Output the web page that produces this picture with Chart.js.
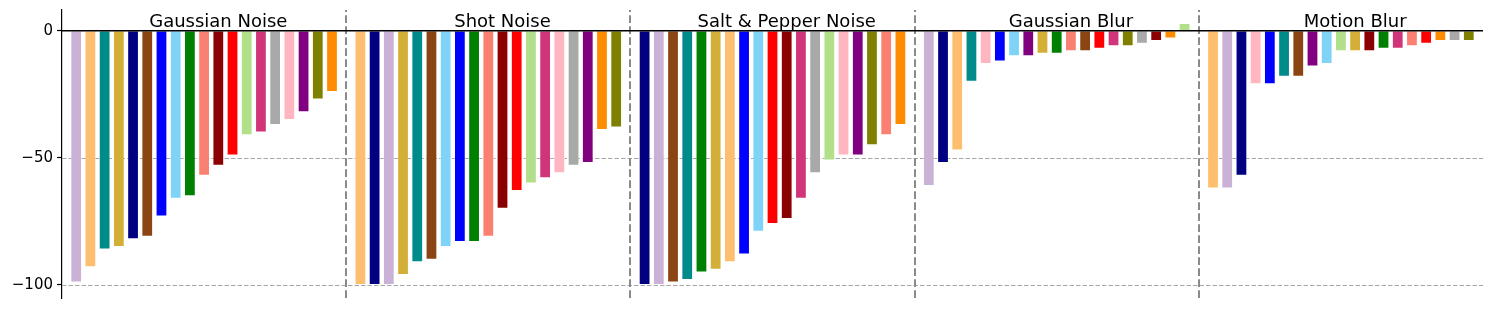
<!DOCTYPE html>
<html>
<head>
<meta charset="utf-8">
<title>Corruption drop per method</title>
<script src="https://cdn.jsdelivr.net/npm/chart.js@4.4.1/dist/chart.umd.min.js"></script>
<style>
  html, body { margin: 0; padding: 0; background: #fff; }
  #chart { display: block; }
</style>
</head>
<body>
<canvas id="chart" width="1494" height="310"></canvas>
<script>
// ─── Data ───────────────────────────────────────────────
var groups = ['Gaussian Noise', 'Shot Noise', 'Salt & Pepper Noise', 'Gaussian Blur', 'Motion Blur'];
var yTicks = [-100, -50, 0];
var gridValues = [-100, -50];

// values per group, in the order they are drawn (already sorted)
var gaussianNoise = [-99, -93, -86, -85, -82, -81, -73, -66, -65, -57, -53, -49, -41, -40, -37, -35, -32, -27, -24];
var shotNoise     = [-100, -100, -100, -96, -91, -90, -85, -83, -83, -81, -70, -63, -60, -58, -56, -53, -52, -39, -38];
var saltPepper    = [-100, -100, -99, -98, -95, -94, -91, -88, -79, -76, -74, -66, -56, -51, -49, -49, -45, -41, -37];
var gaussianBlur  = [-61, -52, -47, -20, -13, -12, -10, -10, -9, -9, -8, -8, -7, -6, -6, -5, -4, -3, 3];
var motionBlur    = [-62, -62, -57, -21, -21, -18, -18, -14, -13, -8, -8, -8, -7, -7, -6, -5, -4, -4, -4];

// which method (colour key) each bar belongs to
var gaussianNoiseKeys = ['lav', 'lor', 'teal', 'gold', 'navy', 'brown', 'blue', 'sky', 'green', 'salmon', 'dred', 'red', 'lgreen', 'mag', 'gray', 'pink', 'purple', 'olive', 'orange'];
var shotNoiseKeys     = ['lor', 'navy', 'lav', 'gold', 'teal', 'brown', 'sky', 'blue', 'green', 'salmon', 'dred', 'red', 'lgreen', 'mag', 'pink', 'gray', 'purple', 'orange', 'olive'];
var saltPepperKeys    = ['navy', 'lav', 'brown', 'teal', 'green', 'gold', 'lor', 'blue', 'sky', 'red', 'dred', 'mag', 'gray', 'lgreen', 'pink', 'purple', 'olive', 'salmon', 'orange'];
var gaussianBlurKeys  = ['lav', 'navy', 'lor', 'teal', 'pink', 'blue', 'sky', 'purple', 'gold', 'green', 'salmon', 'brown', 'red', 'mag', 'olive', 'gray', 'dred', 'orange', 'lgreen'];
var motionBlurKeys    = ['lor', 'lav', 'navy', 'pink', 'blue', 'teal', 'brown', 'purple', 'sky', 'lgreen', 'gold', 'dred', 'green', 'mag', 'salmon', 'red', 'orange', 'gray', 'olive'];

// ─── Style ──────────────────────────────────────────────
var palette = {
  lav: '#cab2d6', lor: '#fdbf6f', teal: '#008b8b', gold: '#d4af37', navy: '#000080',
  brown: '#8b4513', blue: '#0000ff', sky: '#7fd3f7', green: '#008000', salmon: '#fa8072',
  dred: '#8b0000', red: '#ff0000', lgreen: '#b2df8a', mag: '#d03579', gray: '#a9a9a9',
  pink: '#ffb6c1', purple: '#800080', olive: '#808000', orange: '#ff8c00'
};
var FONT = "'DejaVu Sans', 'Liberation Sans', sans-serif";

// ─── Build dataset ──────────────────────────────────────
var allValues = [gaussianNoise, shotNoise, saltPepper, gaussianBlur, motionBlur];
var allKeys = [gaussianNoiseKeys, shotNoiseKeys, saltPepperKeys, gaussianBlurKeys, motionBlurKeys];
var slot = 20; // one empty slot between groups

var points = [];
var colors = [];
allValues.forEach(function (vals, g) {
  vals.forEach(function (v, i) {
    points.push({ x: g * slot + i + 1, y: v });
    colors.push(palette[allKeys[g][i]]);
  });
});

// dashed grid, separators, zero line and group titles
var overlay = {
  id: 'overlay',
  beforeDatasetsDraw: function (chart) {
    var ctx = chart.ctx, xs = chart.scales.x, ys = chart.scales.y, area = chart.chartArea;
    ctx.save();
    ctx.strokeStyle = '#a6a6a6';
    ctx.lineWidth = 1;
    ctx.setLineDash([4.5, 2]);
    gridValues.forEach(function (v) {
      var py = Math.round(ys.getPixelForValue(v)) + 0.5;
      ctx.beginPath();
      ctx.moveTo(area.left, py);
      ctx.lineTo(area.right, py);
      ctx.stroke();
    });

    ctx.strokeStyle = '#8a8a8a';
    ctx.lineWidth = 2;
    ctx.setLineDash([7.7, 3.3]);
    for (var g = 1; g < groups.length; g++) {
      var px = Math.round(xs.getPixelForValue(g * slot));
      ctx.beginPath();
      ctx.moveTo(px, area.bottom);
      ctx.lineTo(px, area.top);
      ctx.stroke();
    }
    ctx.restore();
  },
  afterDatasetsDraw: function (chart) {
    var ctx = chart.ctx, xs = chart.scales.x, ys = chart.scales.y, area = chart.chartArea;
    ctx.save();
    var y0 = ys.getPixelForValue(0);
    ctx.strokeStyle = '#000';
    ctx.lineWidth = 1.5;
    ctx.beginPath();
    ctx.moveTo(area.left, y0);
    ctx.lineTo(area.right, y0);
    ctx.stroke();

    ctx.fillStyle = '#000';
    ctx.font = '18px ' + FONT;
    ctx.textAlign = 'center';
    ctx.textBaseline = 'alphabetic';
    groups.forEach(function (name, g) {
      ctx.fillText(name, xs.getPixelForValue(g * slot + 11), y0 - 4);
    });
    ctx.restore();
  }
};

new Chart(document.getElementById('chart'), {
  type: 'bar',
  data: {
    datasets: [{
      data: points,
      backgroundColor: colors,
      borderColor: 'rgba(255,255,255,0.55)',
      borderWidth: 0.8,
      categoryPercentage: 1,
      barPercentage: 0.8
    }]
  },
  options: {
    responsive: false,
    devicePixelRatio: 1,
    animation: false,
    layout: { padding: { left: 0, right: 11, top: 10, bottom: 12 } },
    plugins: { legend: { display: false }, tooltip: { enabled: false } },
    scales: {
      x: {
        type: 'linear',
        min: 0,
        max: 100,
        display: false,
        offset: false
      },
      y: {
        min: -105.15,
        max: 8.15,
        afterBuildTicks: function (scale) {
          scale.ticks = yTicks.map(function (v) { return { value: v }; });
        },
        afterFit: function (scale) {
          scale.width = 62;
          scale.paddingTop = 0;
          scale.paddingBottom = 0;
        },
        border: { display: true, color: '#000', width: 1.2 },
        grid: {
          drawOnChartArea: false,
          drawTicks: true,
          tickLength: 5,
          tickColor: '#000',
          tickWidth: 1.2
        },
        ticks: {
          color: '#000',
          padding: 4,
          font: { family: FONT, size: 15 },
          callback: function (v) { return String(v).replace('-', '\u2212'); }
        }
      }
    }
  },
  plugins: [overlay]
});
</script>
</body>
</html>
